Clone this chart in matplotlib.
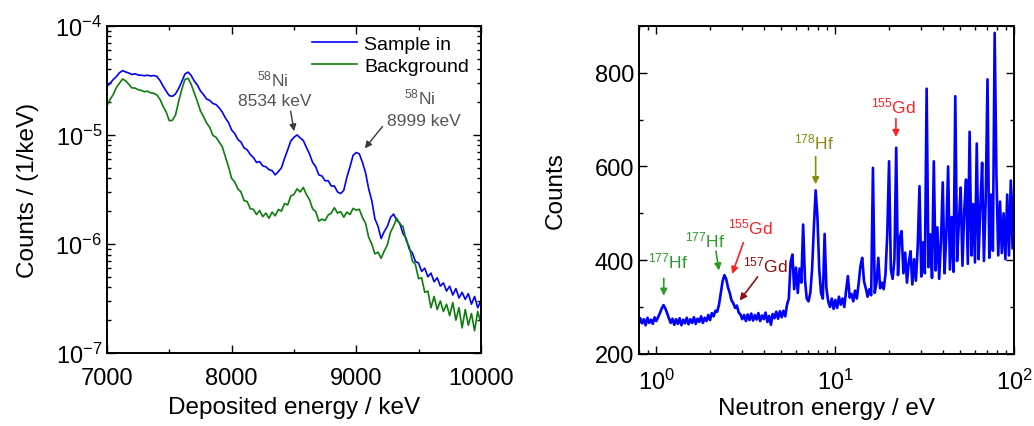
import numpy as np
import matplotlib
matplotlib.use("Agg")
import matplotlib.pyplot as plt
from matplotlib.ticker import MultipleLocator, LogLocator, NullFormatter

plt.rcParams['font.family'] = ['Liberation Sans', 'DejaVu Sans']
plt.rcParams['mathtext.fontset'] = 'custom'
plt.rcParams['mathtext.rm'] = 'Liberation Sans'
plt.rcParams['mathtext.it'] = 'Liberation Sans:italic'

# --- left panel: deposited energy spectra (counts in units of 1e-7 / keV), 25 keV bins
dep_energy = np.arange(7000, 10001, 25)
sample_in = np.array([
    279, 298, 322, 343, 372, 389, 378, 370, 358, 364, 354, 353, 349, 353, 347, 351, 344,
    316, 281, 252, 229, 226, 238, 267, 308, 362, 377, 352, 312, 287, 253, 234, 213, 207, 194, 190, 177,
    162, 143, 130, 111, 103, 91, 86, 76, 73, 66, 62, 56, 57, 52, 51, 48, 47, 43, 46, 50,
    61, 73, 88, 95, 100, 94, 89, 77, 67, 56, 51, 43, 42, 38, 38, 34, 34, 30, 29, 31,
    41, 51, 65, 69, 67, 56, 45, 32, 25, 17, 14.5, 11.2, 13, 14.5, 17.5, 18.8, 16.5, 15.5, 12.5, 11.3,
    9.0, 8.3, 6.9, 6.7, 5.6, 6.0, 5.0, 5.4, 4.5, 4.9, 4.1, 4.4, 3.7, 4.1, 3.4, 3.9, 3.2, 3.6, 3.1, 3.5,
    2.8, 3.3, 2.6, 3.0]) * 1e-7
background = np.array([
    185, 212, 235, 272, 298, 326, 313, 291, 270, 269, 260, 256, 249, 252, 243, 241, 233,
    212, 183, 162, 135, 136, 153, 203, 262, 322, 331, 292, 243, 203, 166, 147, 128, 117, 99, 95, 86,
    78, 63, 51, 40, 37, 32, 30, 25, 24.5, 21, 20.8, 18.6, 20.3, 17.8, 19.2, 17.2, 19.6, 18.1, 20.7, 20,
    23.5, 22.8, 27.5, 28.5, 32, 30, 33, 28.5, 25.5, 21, 19.8, 16.2, 16.9, 16.4, 18.4, 19.2, 21.5, 19.2, 19.8, 17.6,
    19.6, 18.6, 21.2, 20.4, 20.8, 17.5, 15.5, 11.5, 10, 8.1, 8.4, 7.4, 8.6, 9.8, 12.8, 14.6, 17.2, 15.2, 14.5, 10.8,
    9.5, 7.0, 6.5, 4.8, 4.9, 3.6, 3.7, 2.6, 3.3, 2.5, 3.0, 2.4, 2.8, 2.2, 2.9, 2.0, 2.6, 1.7, 2.5, 1.8,
    2.3, 1.6, 2.4, 1.9]) * 1e-7

# --- right panel: neutron energy spectrum, 0.01-decade bins from 10^-0.1 to 10^2 eV
neutron_energy = 10 ** np.linspace(-0.1, 2.0, 211)
counts = np.array([
    262, 276, 265, 274, 261, 277, 266, 273, 264, 278,
    270, 279, 287, 297, 304, 297, 287, 276, 266, 275,
    262, 274, 264, 276, 261, 273, 265, 277, 263, 274,
    266, 278, 264, 275, 268, 280, 266, 277, 270, 283,
    272, 287, 280, 292, 290, 305, 330, 355, 368, 360,
    342, 330, 314, 308, 298, 303, 288, 284, 274, 283,
    270, 284, 272, 286, 271, 283, 273, 287, 270, 282,
    274, 288, 268, 281, 262, 285, 276, 290, 275, 291,
    278, 292, 280, 305, 318, 395, 412, 338, 384, 330,
    382, 352, 476, 360, 318, 312, 330, 380, 470, 549,
    490, 380, 330, 318, 456, 340, 312, 300, 318, 296,
    315, 298, 322, 305, 318, 300, 335, 366, 320, 328,
    312, 335, 318, 350, 387, 405, 355, 340, 322, 338,
    325, 597, 330, 352, 405, 340, 352, 338, 370, 455,
    611, 380, 360, 402, 640, 368, 448, 462, 372, 416,
    352, 395, 419, 348, 402, 356, 428, 558, 365, 438,
    372, 766, 385, 455, 362, 611, 378, 470, 360, 440,
    566, 372, 455, 600, 380, 492, 375, 750, 398, 480,
    555, 388, 505, 572, 392, 674, 410, 520, 395, 649,
    402, 515, 608, 398, 530, 786, 405, 540, 420, 885,
    579, 410, 525, 415, 500, 402, 540, 410, 570, 425, 572])

fig = plt.figure(figsize=(10.34, 4.27), dpi=100)
ax1 = fig.add_axes([0.1035, 0.171, 0.3615, 0.766])
ax2 = fig.add_axes([0.618, 0.169, 0.363, 0.768])

for ax in (ax1, ax2):
    for s in ax.spines.values():
        s.set_linewidth(1.4)
    ax.tick_params(which='both', direction='in', top=True, right=True,
                   labelsize=17, width=1.0)
    ax.tick_params(which='major', length=5.5)
    ax.tick_params(which='minor', length=3)

# left panel
ax1.plot(dep_energy, sample_in, color='#0000ff', lw=1.2, label='Sample in')
ax1.plot(dep_energy, background, color='#0b7d0b', lw=1.2, label='Background')
ax1.set_yscale('log')
ax1.set_xlim(7000, 10000)
ax1.set_ylim(1e-7, 1e-4)
ax1.set_xticks([7000, 8000, 9000, 10000])
ax1.xaxis.set_minor_locator(MultipleLocator(500))
ax1.yaxis.set_minor_locator(LogLocator(base=10, subs=np.arange(2, 10)))
ax1.yaxis.set_minor_formatter(NullFormatter())
ax1.tick_params(axis='x', pad=10)
ax1.set_xlabel('Deposited energy / keV', fontsize=17.5, labelpad=5)
ax1.set_ylabel('Counts / (1/keV)', fontsize=17.5, labelpad=12)
ax1.legend(loc='upper right', frameon=False, fontsize=14, handlelength=2.3,
           handletextpad=0.4, borderaxespad=0.1, labelspacing=0.2,
           bbox_to_anchor=(0.995, 1.0))

grey = '#555555'
ax1.text(8330, 3.3e-5, '$^{58}$Ni', color=grey, fontsize=12.5, ha='center', va='center')
ax1.text(8350, 2.05e-5, '8534 keV', color=grey, fontsize=12.5, ha='center', va='center')
ax1.annotate('', xy=(8505, 1.02e-5), xytext=(8470, 1.75e-5),
             arrowprops=dict(arrowstyle='-|>', color='#3a3a3a', lw=1.0, mutation_scale=10))
ax1.text(9510, 2.25e-5, '$^{58}$Ni', color=grey, fontsize=12.5, ha='center', va='center')
ax1.text(9545, 1.35e-5, '8999 keV', color=grey, fontsize=12.5, ha='center', va='center')
ax1.annotate('', xy=(9055, 7.2e-6), xytext=(9225, 1.25e-5),
             arrowprops=dict(arrowstyle='-|>', color='#3a3a3a', lw=1.0, mutation_scale=10))

# right panel
ax2.plot(neutron_energy, counts, color='#0000ff', lw=1.9)
ax2.set_xscale('log')
ax2.set_xlim(0.8, 100)
ax2.set_ylim(200, 900)
ax2.set_yticks([200, 400, 600, 800])
ax2.yaxis.set_minor_locator(MultipleLocator(100))
ax2.xaxis.set_minor_locator(LogLocator(base=10, subs=np.arange(2, 10)))
ax2.xaxis.set_minor_formatter(NullFormatter())
ax2.tick_params(axis='x', pad=11)
ax2.set_xlabel('Neutron energy / eV', fontsize=17.5, labelpad=2)
ax2.set_ylabel('Counts', fontsize=17.5, labelpad=20)

labels = [
    ('$^{177}$Hf', '#2a9a2a', (1.17, 399), (1.10, 367), (1.10, 318)),
    ('$^{177}$Hf', '#2a9a2a', (1.88, 444), (2.14, 425), (2.25, 372)),
    ('$^{155}$Gd', '#ff2020', (3.35, 472), (3.10, 443), (2.62, 365)),
    ('$^{157}$Gd', '#8b1010', (4.06, 391), (3.76, 369), (2.86, 309)),
    ('$^{178}$Hf', '#8a8a10', (7.63, 654), (7.76, 627), (7.76, 556)),
    ('$^{155}$Gd', '#ff2020', (21.1, 730), (21.8, 708), (21.8, 657)),
]
for txt, col, tpos, start, end in labels:
    ax2.text(tpos[0], tpos[1], txt, color=col, fontsize=12.5, ha='center', va='center')
    ax2.annotate('', xy=end, xytext=start,
                 arrowprops=dict(arrowstyle='-|>', color=col, lw=1.2, mutation_scale=10))

fig.savefig('out.png', dpi=100)
